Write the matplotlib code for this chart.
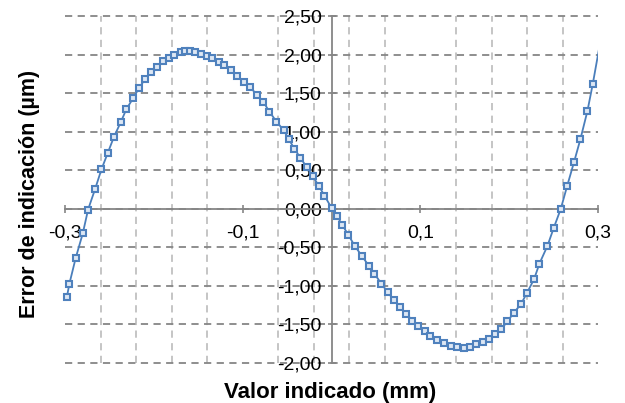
import matplotlib
matplotlib.use("Agg")
import matplotlib.pyplot as plt
from matplotlib.ticker import FuncFormatter, FixedLocator

plt.rcParams['font.family'] = ['Liberation Sans', 'DejaVu Sans']

# valores (mm, um)
valor_mm = [-0.298, -0.295, -0.288, -0.280, -0.274, -0.266, -0.259, -0.252, -0.245, -0.237,
            -0.231, -0.223, -0.217, -0.210, -0.203, -0.197, -0.190, -0.183, -0.177, -0.170,
            -0.165, -0.159, -0.154, -0.147, -0.140, -0.134, -0.127, -0.121, -0.113, -0.106,
            -0.099, -0.092, -0.084, -0.077, -0.070, -0.062, -0.054, -0.048, -0.042, -0.035,
            -0.028, -0.021, -0.014, -0.008, 0.000, 0.006, 0.012, 0.019, 0.026, 0.034,
            0.042, 0.048, 0.056, 0.063, 0.070, 0.077, 0.084, 0.091, 0.097, 0.105,
            0.111, 0.119, 0.126, 0.134, 0.141, 0.149, 0.156, 0.163, 0.170, 0.177,
            0.184, 0.191, 0.198, 0.205, 0.213, 0.220, 0.228, 0.234, 0.243, 0.250,
            0.258, 0.265, 0.273, 0.280, 0.288, 0.294, 0.305]
error_um = [-1.15, -0.97, -0.64, -0.32, -0.01, 0.26, 0.51, 0.72, 0.93, 1.13,
            1.29, 1.44, 1.56, 1.68, 1.77, 1.84, 1.91, 1.96, 2.00, 2.03,
            2.04, 2.04, 2.03, 2.01, 1.98, 1.95, 1.90, 1.86, 1.80, 1.72,
            1.65, 1.58, 1.48, 1.39, 1.26, 1.13, 1.02, 0.90, 0.78, 0.66,
            0.54, 0.42, 0.29, 0.17, 0.01, -0.09, -0.21, -0.34, -0.48, -0.61,
            -0.74, -0.84, -0.97, -1.08, -1.18, -1.28, -1.36, -1.45, -1.52, -1.59,
            -1.65, -1.70, -1.74, -1.78, -1.79, -1.80, -1.79, -1.76, -1.73, -1.69,
            -1.63, -1.56, -1.46, -1.35, -1.24, -1.09, -0.91, -0.71, -0.48, -0.25,
            0.00, 0.29, 0.61, 0.90, 1.27, 1.62, 2.33]

x_labels = [-0.3, -0.1, 0.1, 0.3]
x_grid = [-0.3, -0.26, -0.22, -0.18, -0.14, -0.1, -0.06, -0.02, 0.02, 0.06, 0.1, 0.14, 0.18, 0.22, 0.26, 0.3]
y_ticks = [-2.0, -1.5, -1.0, -0.5, 0.0, 0.5, 1.0, 1.5, 2.0, 2.5]

azul = '#4a7ebb'
gris = '#868686'

fig = plt.figure(figsize=(6.25, 4.03), dpi=100)
ax = fig.add_axes([0.104, 0.0993, 0.853, 0.861])

# linea (recortada en el borde) y marcadores de los puntos dentro del rango
ax.plot(valor_mm, error_um, color=azul, lw=1.3, zorder=3)
xm = [v for v in valor_mm if -0.3 <= v <= 0.3]
ym = [e for v, e in zip(valor_mm, error_um) if -0.3 <= v <= 0.3]
ax.plot(xm, ym, ls='none', marker='s', ms=4.3, mfc='#dde7f4', mec='#4f81bd', mew=1.5,
        zorder=4, clip_on=False)

ax.set_xlim(-0.3, 0.3)
ax.set_ylim(-2.0, 2.5)

# ejes cruzando en cero
ax.spines['left'].set_position(('data', 0))
ax.spines['bottom'].set_position(('data', 0))
ax.spines['top'].set_visible(False)
ax.spines['right'].set_visible(False)
for s in ['left', 'bottom']:
    ax.spines[s].set_color(gris)
    ax.spines[s].set_linewidth(1.3)
    ax.spines[s].set_zorder(2)

ax.xaxis.set_major_locator(FixedLocator(x_labels))
ax.xaxis.set_minor_locator(FixedLocator(x_grid))
ax.yaxis.set_major_locator(FixedLocator(y_ticks))
ax.xaxis.set_major_formatter(FuncFormatter(lambda v, p: f"{v:.1f}".replace('.', ',')))
ax.yaxis.set_major_formatter(FuncFormatter(lambda v, p: f"{v:.2f}".replace('.', ',')))

ax.tick_params(which='major', direction='inout', length=6, width=1.2, color=gris,
               labelsize=14, labelcolor='black', pad=4)
ax.tick_params(which='minor', length=0)
ax.tick_params(axis='x', pad=8)

ax.grid(axis='y', which='major', color=gris, ls=(0, (4, 3)), lw=1.3, clip_on=False)
ax.grid(axis='x', which='minor', color='#c0c0c0', ls=(0, (4, 3)), lw=1.3, clip_on=False)
ax.grid(axis='x', which='major', visible=False)
ax.set_axisbelow(True)

fig.text(0.048, 0.52, 'Error de indicación (µm)', rotation=90, ha='center', va='center',
         fontsize=15.5, fontweight='bold')
fig.text(0.528, 0.025, 'Valor indicado (mm)', ha='center', va='center',
         fontsize=16, fontweight='bold')

fig.savefig('out.png', dpi=100)
